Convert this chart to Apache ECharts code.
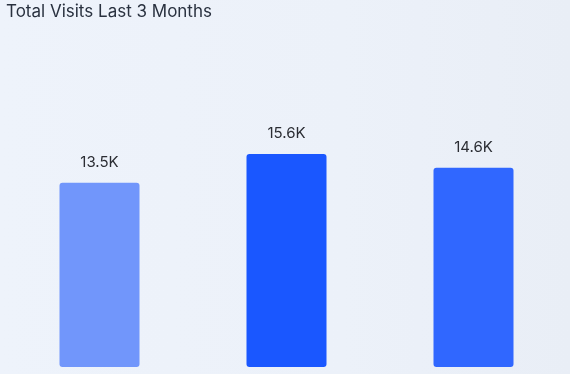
<!DOCTYPE html>
<html>
<head>
<meta charset="utf-8">
<script src="https://cdn.jsdelivr.net/npm/echarts@6/dist/echarts.min.js"></script>
<style>
html,body{margin:0;padding:0;}
body{width:570px;height:374px;background:linear-gradient(90deg,#eef3fb 0%,#ecf1f9 60%,#e9eef6 100%);}
#chart{width:570px;height:374px;}
</style>
</head>
<body>
<div id="chart"></div>
<script>
const categories = ['Month 1', 'Month 2', 'Month 3'];
const visits = [13500, 15600, 14600];
const barColors = ['#7196fb', '#1a57ff', '#3067ff'];

const chart = echarts.init(document.getElementById('chart'), null, {renderer: 'canvas'});
chart.setOption({
  backgroundColor: 'transparent',
  animation: false,
  title: {
    text: 'Total Visits Last 3 Months',
    left: 1,
    top: -2,
    textStyle: {
      fontFamily: 'Inter',
      fontSize: 17,
      fontWeight: 'normal',
      color: '#29313f'
    }
  },
  grid: {left: 6, right: 3, top: 94, bottom: 7},
  xAxis: {
    type: 'category',
    data: categories,
    show: false
  },
  yAxis: {
    type: 'value',
    min: 0,
    max: 20000,
    show: false
  },
  series: [{
    type: 'bar',
    data: visits.map((v, i) => ({value: v, itemStyle: {color: barColors[i]}})),
    barWidth: 80,
    itemStyle: {borderRadius: 3},
    label: {
      show: true,
      position: 'top',
      distance: 13,
      fontFamily: 'Inter',
      fontSize: 15,
      color: '#2b2d33',
      formatter: p => (p.value / 1000).toFixed(1) + 'K'
    }
  }]
});
</script>
</body>
</html>
